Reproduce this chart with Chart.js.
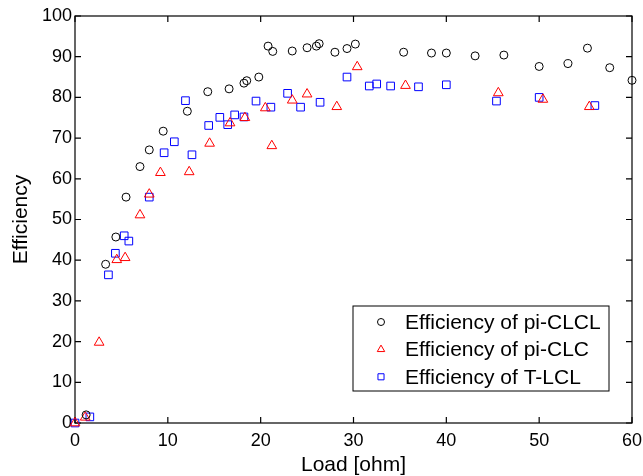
<!DOCTYPE html>
<html>
<head>
<meta charset="utf-8">
<script src="https://cdn.jsdelivr.net/npm/chart.js@4/dist/chart.umd.min.js"></script>
<style>
  html, body { margin: 0; padding: 0; background: #fff; }
  #wrap { width: 643px; height: 476px; }
</style>
</head>
<body>
<div id="wrap"><canvas id="chart" width="643" height="476"></canvas></div>
<script>
// Efficiency vs load for three resonant topologies

const clclLoad = [1.2, 3.3, 4.4, 5.5, 7.0, 8.0, 9.5, 12.1, 14.3, 16.6, 18.2, 18.5, 19.8, 20.8, 21.3, 23.4, 25.0, 26.0, 26.3, 28.0, 29.3, 30.2, 35.4, 38.4, 40.0, 43.1, 46.2, 50.0, 53.1, 55.2, 57.6, 60.0];
const clclEff = [2.0, 39.0, 45.7, 55.5, 63.0, 67.1, 71.7, 76.6, 81.4, 82.1, 83.5, 84.1, 85.0, 92.6, 91.3, 91.4, 92.2, 92.6, 93.2, 91.1, 92.0, 93.1, 91.1, 90.9, 90.9, 90.2, 90.4, 87.6, 88.3, 92.1, 87.3, 84.2];

const clcLoad = [0, 1.1, 2.6, 4.5, 5.4, 7.0, 8.0, 9.2, 12.3, 14.5, 16.7, 18.3, 20.5, 21.2, 23.4, 25.0, 28.2, 30.4, 35.6, 45.6, 50.4, 55.4];
const clcEff = [0, 1.4, 19.8, 40.1, 40.6, 51.1, 56.2, 61.5, 61.7, 68.7, 73.7, 75.0, 77.4, 68.1, 79.3, 80.8, 77.7, 87.5, 82.9, 81.1, 79.5, 77.7];

const tlclLoad = [0, 1.6, 3.6, 4.35, 5.3, 5.8, 8.0, 9.6, 10.7, 11.9, 12.6, 14.4, 15.6, 16.45, 17.2, 18.2, 19.5, 21.1, 22.9, 24.3, 26.4, 29.3, 31.7, 32.5, 34.0, 37.0, 40.0, 45.4, 50.0, 56.0];
const tlclEff = [0, 1.5, 36.4, 41.7, 46.0, 44.7, 55.5, 66.4, 69.1, 79.2, 65.9, 73.1, 75.1, 73.3, 75.7, 75.2, 79.1, 77.6, 81.0, 77.6, 78.8, 85.0, 82.8, 83.3, 82.8, 82.6, 83.1, 79.1, 80.0, 78.0];

const seriesNames = ['Efficiency of pi-CLCL', 'Efficiency of pi-CLC', 'Efficiency of T-LCL'];
const xTicks = [0, 10, 20, 30, 40, 50, 60];
const yTicks = [0, 10, 20, 30, 40, 50, 60, 70, 80, 90, 100];

const FONT = '"Liberation Sans", Arial, sans-serif';

function toPoints(xs, ys) {
  return xs.map((x, i) => ({ x: x, y: ys[i] }));
}

// box around the plot with inward ticks on all four sides
const frameAndTicks = {
  id: 'frameAndTicks',
  beforeDatasetsDraw(chart) {
    const { ctx, chartArea: a, scales } = chart;
    ctx.save();
    ctx.strokeStyle = '#000';
    ctx.lineWidth = 1.2;
    ctx.strokeRect(a.left, a.top, a.right - a.left, a.bottom - a.top);
    const len = 6;
    ctx.beginPath();
    xTicks.forEach(v => {
      const px = scales.x.getPixelForValue(v);
      ctx.moveTo(px, a.bottom); ctx.lineTo(px, a.bottom - len);
      ctx.moveTo(px, a.top); ctx.lineTo(px, a.top + len);
    });
    yTicks.forEach(v => {
      const py = scales.y.getPixelForValue(v);
      ctx.moveTo(a.left, py); ctx.lineTo(a.left + len, py);
      ctx.moveTo(a.right, py); ctx.lineTo(a.right - len, py);
    });
    ctx.stroke();
    ctx.restore();
  }
};

// MATLAB style legend box in the lower right
const boxLegend = {
  id: 'boxLegend',
  afterDraw(chart) {
    const ctx = chart.ctx;
    const left = 353, top = 306, right = 609, bottom = 391;
    ctx.save();
    ctx.fillStyle = '#fff';
    ctx.fillRect(left, top, right - left, bottom - top);
    ctx.strokeStyle = '#000';
    ctx.lineWidth = 1;
    ctx.strokeRect(left, top, right - left, bottom - top);
    ctx.font = '21px ' + FONT;
    ctx.textBaseline = 'middle';
    ctx.textAlign = 'left';
    chart.data.datasets.forEach((ds, i) => {
      const y = 322 + i * 27.4;
      ctx.strokeStyle = ds.borderColor;
      ctx.fillStyle = 'rgba(0,0,0,0)';
      ctx.lineWidth = 1;
      Chart.helpers.drawPoint(ctx, {
        pointStyle: ds.pointStyle,
        radius: ds.pointStyle === 'circle' ? 3.5 : 4.3,
        rotation: 0,
        borderWidth: 1
      }, 381, y);
      ctx.fillStyle = '#000';
      ctx.fillText(ds.label, 405, y + 1);
    });
    ctx.restore();
  }
};

new Chart(document.getElementById('chart'), {
  type: 'scatter',
  data: {
    datasets: [
      {
        label: seriesNames[0],
        data: toPoints(clclLoad, clclEff),
        pointStyle: 'circle',
        pointRadius: 4,
        borderColor: '#000000',
        backgroundColor: 'rgba(0,0,0,0)',
        borderWidth: 1,
        clip: false
      },
      {
        label: seriesNames[1],
        data: toPoints(clcLoad, clcEff),
        pointStyle: 'triangle',
        pointRadius: 5.6,
        borderColor: '#ff0000',
        backgroundColor: 'rgba(0,0,0,0)',
        borderWidth: 1,
        clip: false
      },
      {
        label: seriesNames[2],
        data: toPoints(tlclLoad, tlclEff),
        pointStyle: 'rect',
        pointRadius: 5.4,
        borderColor: '#0000ff',
        backgroundColor: 'rgba(0,0,0,0)',
        borderWidth: 1,
        clip: false
      }
    ]
  },
  options: {
    responsive: false,
    animation: false,
    layout: { padding: { top: 16, right: 11, left: 0, bottom: 0 } },
    scales: {
      x: {
        type: 'linear',
        min: 0,
        max: 60,
        afterFit: scale => {
          scale.height = 53;
          scale.paddingLeft = 0;
          scale.paddingRight = 0;
        },
        afterBuildTicks: scale => { scale.ticks = xTicks.map(v => ({ value: v })); },
        ticks: {
          color: '#000',
          padding: 7,
          maxRotation: 0,
          autoSkip: false,
          font: { family: FONT, size: 18 }
        },
        grid: { display: false, drawTicks: false },
        border: { display: false },
        title: {
          display: true,
          text: 'Load [ohm]',
          color: '#000',
          font: { family: FONT, size: 21, lineHeight: 1 },
          padding: { top: 0, bottom: 0 }
        }
      },
      y: {
        type: 'linear',
        min: 0,
        max: 100,
        afterFit: scale => {
          scale.width = 75;
          scale.paddingTop = 0;
          scale.paddingBottom = 0;
        },
        afterBuildTicks: scale => { scale.ticks = yTicks.map(v => ({ value: v })); },
        ticks: {
          color: '#000',
          padding: 3,
          autoSkip: false,
          font: { family: FONT, size: 18 }
        },
        grid: { display: false, drawTicks: false },
        border: { display: false },
        title: {
          display: true,
          text: 'Efficiency',
          color: '#000',
          font: { family: FONT, size: 21, lineHeight: 1 },
          padding: { top: 11, bottom: 0 }
        }
      }
    },
    plugins: {
      legend: { display: false },
      tooltip: { enabled: false }
    }
  },
  plugins: [frameAndTicks, boxLegend]
});
</script>
</body>
</html>
